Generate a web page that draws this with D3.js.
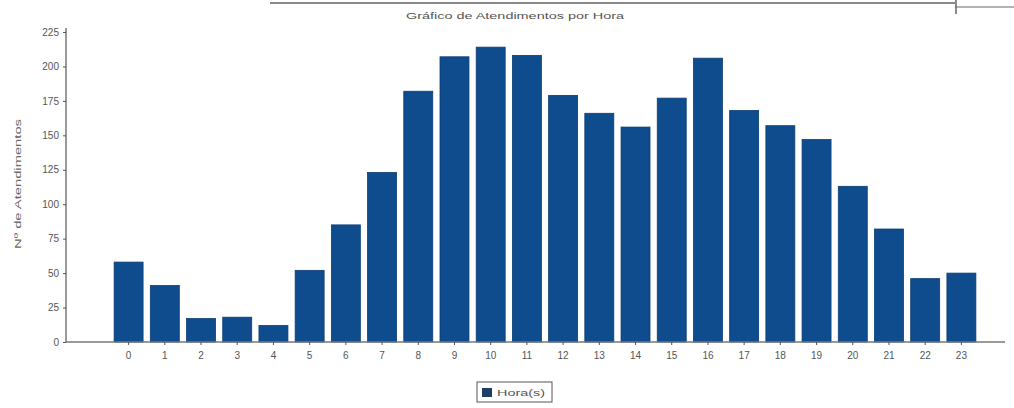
<!DOCTYPE html>
<html><head><meta charset="utf-8">
<script src="https://cdn.jsdelivr.net/npm/d3@7"></script>
<style>html,body{margin:0;padding:0;background:#fff;}svg{display:block;}</style>
</head><body>
<svg id="c" width="1014" height="408"></svg>
<script>
const hours = ["0","1","2","3","4","5","6","7","8","9","10","11","12","13","14","15","16","17","18","19","20","21","22","23"];
const atendimentos = [58,41,17,18,12,52,85,123,182,207,214,208,179,166,156,177,206,168,157,147,113,82,46,50];
const yTicks = [0,25,50,75,100,125,150,175,200,225];
const title = "Gráfico de Atendimentos por Hora";
const yLabel = "Nº de Atendimentos";
const legendLabel = "Hora(s)";

const svg = d3.select("#c");
const font = "'Liberation Sans', Arial, sans-serif";
const barColor = "#0e4c8e";
const axisColor = "#777";

const y = d3.scaleLinear().domain([0,225]).range([342,32]);
const x = d3.scaleBand().domain(hours).range([110.5,979.5]).paddingInner(0.2).paddingOuter(0.1);

// top frame artifact
svg.append("line").attr("x1",270).attr("x2",955).attr("y1",3).attr("y2",3).attr("stroke","#888").attr("stroke-width",2);
svg.append("line").attr("x1",955).attr("x2",1014).attr("y1",7).attr("y2",7).attr("stroke","#999").attr("stroke-width",1.5);
svg.append("line").attr("x1",956).attr("x2",956).attr("y1",0).attr("y2",14).attr("stroke","#666").attr("stroke-width",1.5);

svg.append("text").attr("x",515).attr("y",19).attr("text-anchor","middle")
  .attr("font-family",font).attr("font-size",9.5).attr("fill","#555")
  .attr("textLength",218).attr("lengthAdjust","spacingAndGlyphs").text(title);

// y axis
const yAxis = d3.axisLeft(y).tickValues(yTicks).tickSize(3).tickPadding(4);
const gy = svg.append("g").attr("transform","translate(66,0)").call(yAxis);
gy.select(".domain").attr("stroke",axisColor).attr("stroke-width",1.5).attr("d","M0,28V342");
gy.selectAll(".tick line").attr("stroke","#555");
gy.selectAll("text").attr("font-family",font).attr("font-size",10).attr("fill","#555");

svg.append("text").attr("transform","translate(21,184) rotate(-90)").attr("text-anchor","middle")
  .attr("font-family",font).attr("font-size",9.5).attr("fill","#666")
  .attr("textLength",130).attr("lengthAdjust","spacingAndGlyphs").text(yLabel);

// bars
svg.append("g").selectAll("rect").data(atendimentos).join("rect")
  .attr("x",(d,i)=>x(hours[i]))
  .attr("y",d=>y(d))
  .attr("width",x.bandwidth())
  .attr("height",d=>y(0)-y(d))
  .attr("fill",barColor)
  .attr("stroke","#0a3d73").attr("stroke-width",0.8);

// x axis
const xAxis = d3.axisBottom(x).tickSize(3).tickPadding(7);
const gx = svg.append("g").attr("transform","translate(0,342)").call(xAxis);
gx.select(".domain").attr("stroke",axisColor).attr("stroke-width",1.5).attr("d","M66,0H1005");
gx.selectAll(".tick line").attr("stroke","#555");
gx.selectAll("text").attr("font-family",font).attr("font-size",10).attr("fill","#555");

// legend
const lg = svg.append("g").attr("transform","translate(477,382)");
lg.append("rect").attr("x",0).attr("y",0).attr("width",75).attr("height",20).attr("fill","#fff").attr("stroke","#555").attr("stroke-width",1);
lg.append("rect").attr("x",5).attr("y",6).attr("width",10).attr("height",9).attr("fill","#1c3f6a");
lg.append("text").attr("x",20).attr("y",14).attr("font-family",font).attr("font-size",9.5).attr("fill","#555")
  .attr("textLength",48).attr("lengthAdjust","spacingAndGlyphs").text(legendLabel);
</script>
</body></html>
